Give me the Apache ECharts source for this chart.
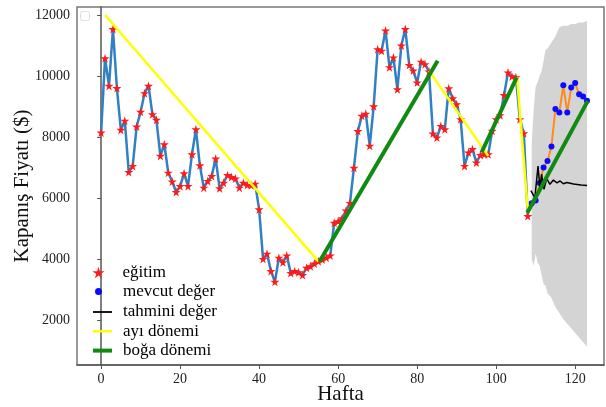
<!DOCTYPE html>
<html>
<head>
<meta charset="utf-8">
<script src="https://cdn.jsdelivr.net/npm/echarts@6/dist/echarts.min.js"></script>
<style>
  html, body { margin: 0; padding: 0; background: #fff; }
  #chart { width: 606px; height: 407px; }
</style>
</head>
<body>
<div id="chart"></div>
<script>
// haftalık kapanış fiyatları (eğitim: hafta 0..108)
const trainStart = 0;
const trainValues = [
  8150, 10580, 9680, 11540, 9610, 8240, 8540, 6860, 7060, 8350,
  8830, 9440, 9680, 8750, 8570, 7390, 7770, 6840, 6550, 6210,
  6400, 6820, 6400, 7440, 8260, 7080, 6350, 6570, 6730, 7300,
  6330, 6510, 6760, 6700, 6650, 6350, 6510, 6440, 6430, 6480,
  5640, 4020, 4190, 3620, 3270, 4060, 3910, 4130, 3560, 3620,
  3580, 3490, 3730, 3780, 3870, 3940, 4000, 4060, 4130, 5200,
  5250, 5350, 5600, 5850, 7000, 8200, 8700, 8770, 7720, 9010,
  10880, 10830, 11490, 10290, 10610, 9570, 11000, 11540, 10360, 10180,
  9790, 10470, 10390, 10150, 8120, 7990, 8370, 8260, 9600, 9270,
  9080, 8590, 7060, 7500, 7610, 7170, 7420, 7440, 7440, 8210,
  8590, 8720, 9380, 10120, 9990, 9960, 8590, 8130, 5420
];

// mevcut değer (hafta 109..123)
const actualStart = 109;
const actualValues = [5840, 5930, 6500, 7010, 7220, 7700, 8920, 8810, 9700, 8810, 9630, 9770, 9410, 9330, 9190];

// tahmini değer
const predWeeks = [108.8, 109.8, 110.6, 111.1, 111.5, 112.1, 112.8, 113.6, 114.5, 115.4, 116.2, 117.0, 117.9, 119.6, 121.5, 123];
const predValues = [6250, 6020, 7060, 6320, 6790, 6300, 6650, 6460, 6600, 6510, 6570, 6480, 6520, 6470, 6440, 6420];

// güven aralığı (gri bant)
const bandWeeks = [109, 109.5, 110, 110.5, 111, 111.5, 112, 112.5, 113, 114, 115, 116, 117, 118, 119, 120, 121, 122, 123];
const bandUpper = [7800, 8900, 9650, 9800, 10000, 10150, 10500, 10850, 10900, 11100, 11300, 11600, 11650, 11650, 11700, 11700, 11750, 11750, 11800];
const bandLower = [4000, 3800, 4200, 3900, 3800, 3500, 3200, 3150, 2900, 2750, 2450, 2250, 2050, 1900, 1750, 1600, 1450, 1300, 1150];

// ayı / boğa dönemleri [başlangıç, bitiş]
const bearLines = [[[1, 12000], [55, 3940]], [[83, 10170], [98, 7390]], [[105.3, 9960], [108, 5640]]];
const bullLines = [[[55.3, 3935], [85.2, 10500]], [[96.3, 7500], [105.2, 9960]], [[107.9, 5530], [123.2, 9190]]];

const xTicks = [0, 20, 40, 60, 80, 100, 120];
const yTicks = [2000, 4000, 6000, 8000, 10000, 12000];

const STAR = 'path://M50,0 L61,35 L98,35 L68,57 L79,91 L50,70 L21,91 L32,57 L2,35 L39,35 Z';
const serif = 'Liberation Serif';

var myChart = echarts.init(document.getElementById('chart'));

function legendText(pad) {
  return { fontFamily: serif, fontSize: 17, color: '#000', lineHeight: 17, padding: [0, 0, 0, pad] };
}

const series = [
  // gri bant: üst sınır -> alt sınır poligonu
  {
    type: 'custom', z: 1, silent: true, data: [0],
    renderItem: function (params, api) {
      const pts = bandWeeks.map((w, i) => api.coord([w, bandUpper[i]]));
      for (let i = bandWeeks.length - 1; i >= 0; i--) pts.push(api.coord([bandWeeks[i], bandLower[i]]));
      return { type: 'polygon', shape: { points: pts }, style: { fill: '#d4d4d4' } };
    }
  },
  {
    name: 'eğitim', type: 'line', z: 3,
    symbol: STAR, symbolSize: 9,
    itemStyle: { color: '#ff1a1a' },
    lineStyle: { color: '#2f80c4', width: 2.5 },
    data: trainValues.map((v, i) => [trainStart + i, v])
  },
  {
    name: 'mevcut değer', type: 'line', z: 3,
    symbol: 'circle', symbolSize: 6,
    itemStyle: { color: '#0a0aff' },
    lineStyle: { color: '#ff8a1e', width: 2 },
    data: actualValues.map((v, i) => [actualStart + i, v])
  },
  {
    name: 'tahmini değer', type: 'line', z: 4, symbol: 'none',
    lineStyle: { color: '#000', width: 1.5 },
    data: predWeeks.map((w, i) => [w, predValues[i]])
  }
];

bearLines.forEach(seg => series.push({
  name: 'ayı dönemi', type: 'line', z: 5, symbol: 'none',
  lineStyle: { color: '#ffff00', width: 2.5 },
  data: seg
}));
bullLines.forEach(seg => series.push({
  name: 'boğa dönemi', type: 'line', z: 6, symbol: 'none',
  lineStyle: { color: '#108a10', width: 4 },
  data: seg
}));

const option = {
  animation: false,
  backgroundColor: '#fff',
  grid: { left: 77, right: 2, top: 7, bottom: 42, show: true, borderColor: '#777', borderWidth: 1.5, outerBoundsMode: 'none' },
  legend: [
    { left: 87.5, top: 259, orient: 'vertical', itemWidth: 12, itemHeight: 12, selectedMode: false,
      textStyle: legendText(13), data: [{ name: 'eğitim', icon: STAR, itemStyle: { color: '#ff1a1a' } }] },
    { left: 90, top: 278, orient: 'vertical', itemWidth: 7, itemHeight: 7, selectedMode: false,
      textStyle: legendText(16), data: [{ name: 'mevcut değer', icon: 'circle', itemStyle: { color: '#0a0aff' } }] },
    { left: 88, top: 298.5, orient: 'vertical', itemWidth: 19, itemHeight: 10, itemGap: 2.3, selectedMode: false,
      textStyle: legendText(6),
      data: [
        { name: 'tahmini değer', icon: 'path://M0,0H19V1.8H0Z', itemStyle: { color: '#000' } },
        { name: 'ayı dönemi', icon: 'path://M0,0H19V2.5H0Z', itemStyle: { color: '#ffff00' } },
        { name: 'boğa dönemi', icon: 'path://M0,0H19V4H0Z', itemStyle: { color: '#108a10' } }
      ] }
  ],
  xAxis: {
    type: 'value', min: -6.1, max: 127.3,
    name: 'Hafta', nameLocation: 'middle', nameGap: 19, nameMoveOverlap: false,
    nameTextStyle: { fontFamily: serif, fontSize: 21, color: '#111' },
    axisLine: { show: true, lineStyle: { color: '#555', width: 1.5 } },
    axisTick: { show: true, length: 4, customValues: xTicks, lineStyle: { color: '#555' } },
    axisLabel: { customValues: xTicks, fontFamily: serif, fontSize: 14, color: '#222', margin: 7 },
    splitLine: { show: false }
  },
  yAxis: {
    type: 'value', min: 550, max: 12260,
    name: 'Kapanış Fiyatı ($)', nameLocation: 'middle', nameGap: 44, nameMoveOverlap: false,
    nameTextStyle: { fontFamily: serif, fontSize: 21, color: '#111' },
    axisLine: { show: true, lineStyle: { color: '#555', width: 1.5 } },
    axisTick: { show: true, length: 4, customValues: yTicks, lineStyle: { color: '#555' } },
    axisLabel: { customValues: yTicks, formatter: v => String(v), fontFamily: serif, fontSize: 14, color: '#222', margin: 7 },
    splitLine: { show: false }
  },
  graphic: [
    { type: 'rect', left: 80, top: 11, shape: { width: 9, height: 9, r: 2 }, style: { fill: '#fff', stroke: '#ddd', lineWidth: 1 }, silent: true }
  ],
  series: series
};

myChart.setOption(option);
</script>
</body>
</html>
